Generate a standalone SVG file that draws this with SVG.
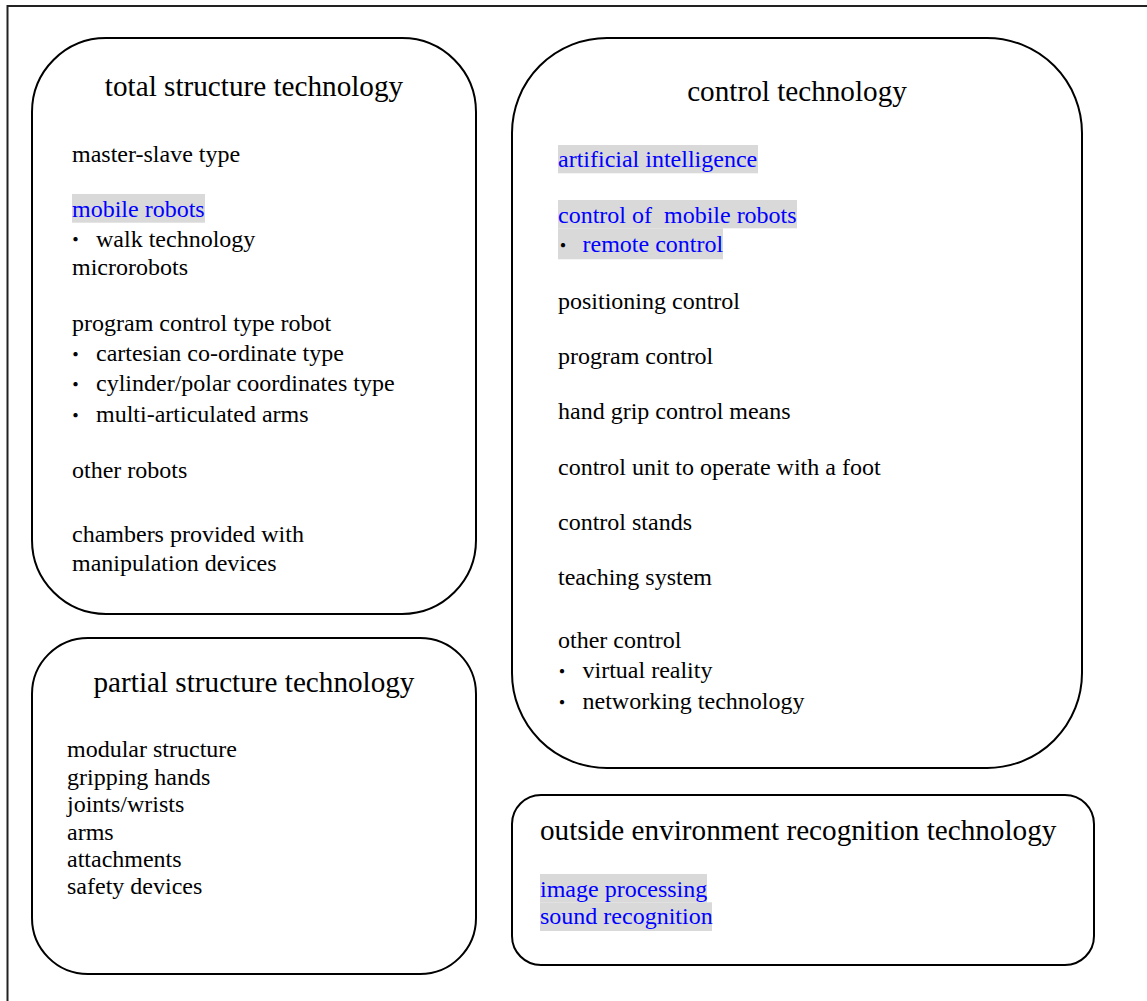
<svg xmlns="http://www.w3.org/2000/svg" width="1147" height="1001" viewBox="0 0 1147 1001">
  <style>
    .frame { fill: none; stroke: #222; stroke-width: 2; }
    .box { fill: #fff; stroke: #000; stroke-width: 2; }
    .title { font-family: "Liberation Serif", "Times New Roman", serif; font-size: 29.2px; fill: #000; }
    .item { font-family: "Liberation Serif", "Times New Roman", serif; font-size: 24px; fill: #000; }
    .blue { fill: #0000ff; }
    .mark { fill: #d9d9d9; }
    .dot { font-family: "Noto Sans CJK JP", sans-serif; font-size: 20px; fill: #000; }
  </style>

  <rect width="1147" height="1001" fill="#fff"/>
  <!-- outer page frame, running off the right and bottom edges -->
  <rect class="frame" x="7.5" y="6" width="1200" height="1100"/>

  <g id="total-structure">
    <rect class="box" x="32" y="38" width="444" height="576" rx="74" ry="74"/>
    <text class="title" x="254" y="96" text-anchor="middle">total structure technology</text>
    <text class="item" x="72" y="162">master-slave type</text>
    <rect class="mark" x="72" y="194" width="133" height="28.7"/>
    <text class="item blue" x="72" y="216.5">mobile robots</text>
    <text class="dot" x="65.5" y="247.3">・</text>
    <text class="item" x="96" y="246.5">walk technology</text>
    <text class="item" x="72" y="275">microrobots</text>
    <text class="item" x="72" y="330.5">program control type robot</text>
    <text class="dot" x="65.5" y="361.5">・</text>
    <text class="item" x="96" y="360.5">cartesian co-ordinate type</text>
    <text class="dot" x="65.5" y="392">・</text>
    <text class="item" x="96" y="391">cylinder/polar coordinates type</text>
    <text class="dot" x="65.5" y="423">・</text>
    <text class="item" x="96" y="422">multi-articulated arms</text>
    <text class="item" x="72" y="478">other robots</text>
    <text class="item" x="72" y="541.5">chambers provided with</text>
    <text class="item" x="72" y="570.5">manipulation devices</text>
  </g>

  <g id="control">
    <rect class="box" x="512" y="38" width="570" height="730" rx="95" ry="95"/>
    <text class="title" x="797" y="101" text-anchor="middle">control technology</text>
    <rect class="mark" x="558" y="145" width="200" height="28.3"/>
    <text class="item blue" x="558" y="166.5">artificial intelligence</text>
    <rect class="mark" x="558" y="200" width="239" height="28.3"/>
    <rect class="mark" x="558" y="228.3" width="165" height="31"/>
    <text class="item blue" x="558" y="222.5" xml:space="preserve">control of  mobile robots</text>
    <text class="dot blue" x="553" y="252.5">・</text>
    <text class="item blue" x="582.5" y="251.5">remote control</text>
    <text class="item" x="558" y="308.5">positioning control</text>
    <text class="item" x="558" y="363.5">program control</text>
    <text class="item" x="558" y="418.5">hand grip control means</text>
    <text class="item" x="558" y="474.5">control unit to operate with a foot</text>
    <text class="item" x="558" y="529.5">control stands</text>
    <text class="item" x="558" y="584.5">teaching system</text>
    <text class="item" x="558" y="648">other control</text>
    <text class="dot" x="552" y="679">・</text>
    <text class="item" x="582.5" y="678">virtual reality</text>
    <text class="dot" x="552" y="710">・</text>
    <text class="item" x="582.5" y="709">networking technology</text>
  </g>

  <g id="partial-structure">
    <rect class="box" x="32" y="638" width="444" height="336" rx="56" ry="56"/>
    <text class="title" x="254" y="692" text-anchor="middle">partial structure technology</text>
    <text class="item" x="67" y="756.5">modular structure</text>
    <text class="item" x="67" y="784.5">gripping hands</text>
    <text class="item" x="67" y="812">joints/wrists</text>
    <text class="item" x="67" y="839.5">arms</text>
    <text class="item" x="67" y="866.5">attachments</text>
    <text class="item" x="67" y="894">safety devices</text>
  </g>

  <g id="outside-recognition">
    <rect class="box" x="512" y="795" width="582" height="170" rx="29" ry="29"/>
    <text class="title" x="540" y="840">outside environment recognition technology</text>
    <rect class="mark" x="540" y="874" width="167" height="28.3"/>
    <rect class="mark" x="540" y="902.3" width="172" height="28.7"/>
    <text class="item blue" x="540" y="896.5">image processing</text>
    <text class="item blue" x="540" y="924">sound recognition</text>
  </g>

  <g id="connectors"/>
</svg>
